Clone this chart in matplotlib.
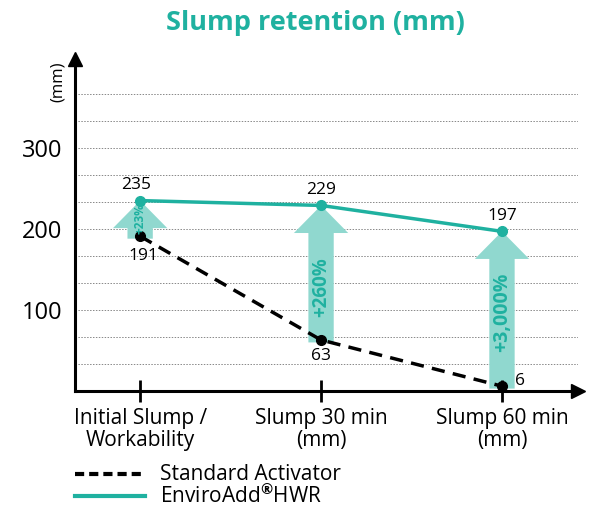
import numpy as np
import matplotlib.pyplot as plt

plt.rcParams['font.family'] = ['Open Sans', 'DejaVu Sans']
plt.rcParams['mathtext.fontset'] = 'custom'
plt.rcParams['mathtext.rm'] = 'Open Sans'
plt.rcParams['mathtext.bf'] = 'Open Sans:bold'

categories = ["Initial Slump /\nWorkability", "Slump 30 min\n(mm)", "Slump 60 min\n(mm)"]
standard = [191, 63, 6]
enviroadd = [235, 229, 197]
gains = ["+23%", "+260%", "+3,000%"]
yticks = [100, 200, 300]

teal = "#1fb1a0"
light = "#90d8cf"

fig = plt.figure(figsize=(6, 5.2), dpi=100)
ax = fig.add_axes([0.125, 0.248, 0.838, 0.639])
x = np.arange(len(categories))

# grid lines every third of 100
for g in np.arange(1, 12) * 100 / 3:
    ax.axhline(g, color="#888888", lw=0.7, ls=(0, (1.5, 1.5)), zorder=0)

# block arrows from standard to enviroadd
label_y = [213, 128, 97]
label_size = [8.5, 13.5, 14]
for i in range(len(x)):
    ax.arrow(x[i], standard[i] - 3, 0, enviroadd[i] - standard[i] + 3, width=0.14,
             head_width=0.30, head_length=34, length_includes_head=True,
             color=light, lw=0, zorder=1)
    ax.text(x[i], label_y[i], gains[i], rotation=90, ha="center", va="center",
            color=teal, fontweight="bold", fontsize=label_size[i], zorder=4)

ax.plot(x, standard, color="black", lw=2.5, ls=(0, (3.8, 2.4)), marker="o", ms=7, zorder=3)
ax.plot(x, enviroadd, color=teal, lw=2.5, marker="o", ms=7, zorder=3)

# value labels
ax.text(x[0] - 0.02, enviroadd[0] + 9, str(enviroadd[0]), ha="center", va="bottom", fontsize=12.5)
ax.text(x[1], enviroadd[1] + 9, str(enviroadd[1]), ha="center", va="bottom", fontsize=12.5)
ax.text(x[2], enviroadd[2] + 9, str(enviroadd[2]), ha="center", va="bottom", fontsize=12.5)
ax.text(x[0] + 0.02, standard[0] - 14, str(standard[0]), ha="center", va="top", fontsize=12.5)
ax.text(x[1], standard[1] - 10, str(standard[1]), ha="center", va="top", fontsize=12.5)
ax.text(x[2] + 0.1, standard[2] + 6, str(standard[2]), ha="center", va="center", fontsize=12.5)

ax.set_xlim(-0.36, 2.419)
ax.set_ylim(0, 410)
ax.set_xticks(x)
ax.set_xticklabels(categories, fontsize=15, linespacing=1.05)
ax.set_yticks(yticks)
ax.set_yticklabels([str(v) for v in yticks], fontsize=17)
ax.tick_params(axis="y", length=0, pad=9)
ax.tick_params(axis="x", direction="inout", length=16, width=2, pad=4)

for s in ["top", "right"]:
    ax.spines[s].set_visible(False)
for s in ["left", "bottom"]:
    ax.spines[s].set_linewidth(2.2)
ax.plot(1, 0, ">k", ms=10, transform=ax.transAxes, clip_on=False)
ax.plot(0, 1, "^k", ms=10, transform=ax.transAxes, clip_on=False)

ax.text(-0.035, 0.93, "(mm)", rotation=90, transform=ax.transAxes, ha="center", va="center", fontsize=12)

fig.text(0.525, 0.955, "Slump retention (mm)", ha="center", va="center",
         color=teal, fontsize=19.5, fontweight="bold")

# legend
fig.lines.append(plt.Line2D([0.125, 0.242], [0.088, 0.088], color="black", lw=3,
                            ls=(0, (2.2, 1.2)), transform=fig.transFigure))
fig.lines.append(plt.Line2D([0.125, 0.242], [0.046, 0.046], color=teal, lw=3,
                            transform=fig.transFigure))
fig.text(0.267, 0.088, "Standard Activator", va="center", fontsize=15)
fig.text(0.267, 0.046, r"EnviroAdd$^{\mathbf{®}}$HWR", va="center", fontsize=15)

fig.savefig("out.png", dpi=100)
